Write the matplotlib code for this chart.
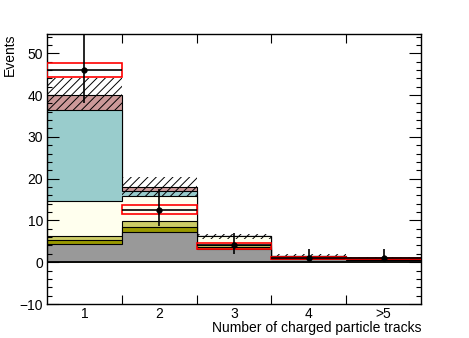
import numpy as np
import matplotlib
matplotlib.use('Agg')
import matplotlib.pyplot as plt

plt.rcParams['font.family'] = ['Liberation Sans', 'DejaVu Sans']
plt.rcParams['hatch.linewidth'] = 0.7

# bin labels
categories = ['1', '2', '3', '4', '>5']

# stacked background contributions (bottom to top)
gray = [4.4, 7.2, 3.2, 0.8, 0.55]
dark_olive = [1.0, 1.2, 0.4, 0.15, 0.1]
light_olive = [0.8, 1.4, 0.4, 0.15, 0.1]
light_yellow = [8.4, 6.0, 2.2, 0.4, 0.3]
teal = [21.8, 1.2, 0.0, 0.05, 0.03]
brown = [3.7, 1.0, 0.0, 0.05, 0.02]
bkg_unc = [3.9, 2.4, 0.6, 0.25, 0.2]

# second prediction (red boxes)
alt_pred = [45.9, 12.65, 3.9, 0.95, 0.8]
alt_unc = [1.7, 1.05, 0.7, 0.2, 0.15]

# data
data = [46.0, 12.6, 4.0, 1.0, 1.0]
data_lo = [7.9, 4.0, 2.0, 0.8, 0.8]
data_hi = [8.8, 4.8, 3.0, 2.2, 2.2]

layers = [gray, dark_olive, light_olive, light_yellow, teal, brown]
colors = ['#999999', '#999900', '#cccc66', '#ffffee', '#99cccc', '#cc9999']

x = np.arange(1, len(categories) + 1)
edges = np.arange(0.5, len(categories) + 1, 1.0)
cum = np.cumsum(np.array(layers), axis=0)
total = cum[-1]

fig = plt.figure(figsize=(4.69, 3.38), dpi=100)
ax = fig.add_axes([47 / 469, 34 / 338, 374 / 469, 270 / 338])

# stack, drawn from the top layer down
for i in reversed(range(len(layers))):
    ax.stairs(cum[i], edges, baseline=0, fill=True, facecolor=colors[i],
              edgecolor='black', linewidth=0.8, zorder=2)
ax.axhline(0, color='black', lw=1.3, zorder=2.2)

# background uncertainty band
unc = np.array(bkg_unc)
ax.bar(x, 2 * unc, bottom=total - unc, width=1.0, facecolor='none',
       edgecolor='black', hatch='////', linewidth=0, zorder=3)

# red boxes
alt = np.array(alt_pred)
aunc = np.array(alt_unc)
ax.bar(x, 2 * aunc, bottom=alt - aunc, width=1.0, fill=False,
       edgecolor='red', linewidth=1.2, zorder=4)

# data points
ax.errorbar(x, data, yerr=[data_lo, data_hi], xerr=0.5, fmt='o', color='black',
            ms=3.5, lw=1.2, capsize=0, zorder=5)

ax.set_xlim(0.5, 5.5)
ax.set_ylim(-10, 54.6)

ax.set_xticks(x)
ax.set_xticklabels(categories)
ax.set_xticks(edges[1:-1], minor=True)
ax.tick_params(axis='x', which='major', length=0, pad=2.5, labelsize=10)
ax.tick_params(axis='x', which='minor', direction='in', length=6.5, width=0.8,
               top=True, bottom=True)

ax.set_yticks(np.arange(-10, 51, 10))
ax.set_yticks(np.arange(-10, 55, 2), minor=True)
ax.tick_params(axis='y', which='major', direction='in', length=8.3, width=0.8,
               left=True, right=True, pad=2.7, labelsize=10)
ax.tick_params(axis='y', which='minor', direction='in', length=3.6, width=0.8,
               left=True, right=True)
ax.set_axisbelow(False)
for s in ax.spines.values():
    s.set_linewidth(1.0)

ax.set_xlabel('Number of charged particle tracks', fontsize=10, ha='right')
ax.xaxis.set_label_coords(1.0, -0.064)
fig.text(10 / 469, 1 - 34 / 338, 'Events', rotation=90, ha='center', va='top',
         fontsize=10)

fig.savefig('out.png', dpi=100)
